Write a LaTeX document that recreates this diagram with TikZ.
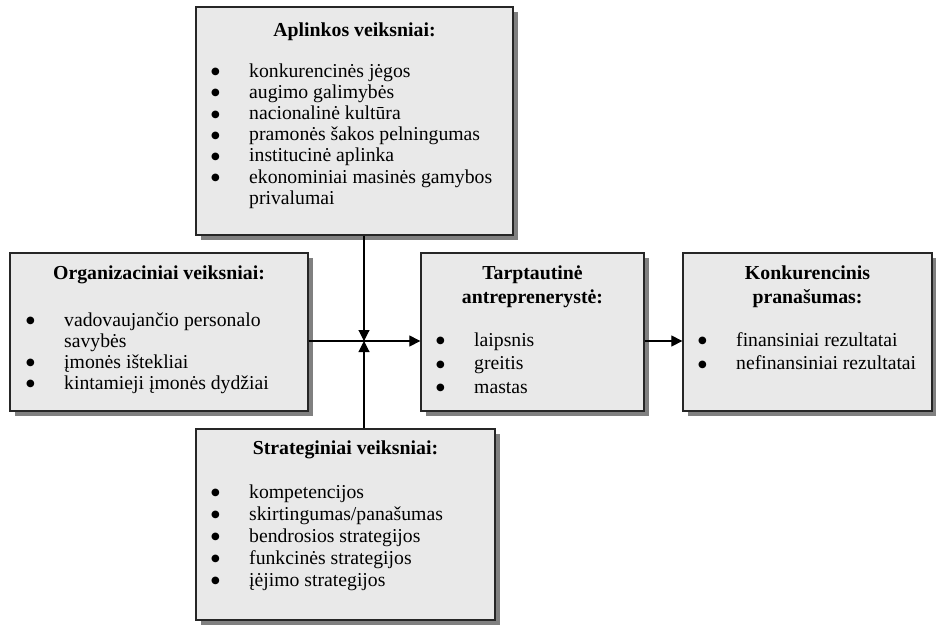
\documentclass[tikz,border=0pt]{standalone}
\usepackage{fontspec}
\setmainfont{Liberation Serif}
\newfontfamily\bltfont{DejaVu Sans}
\usetikzlibrary{arrows.meta,shadows}
\definecolor{boxfill}{RGB}{233,233,233}
\definecolor{shadowgray}{RGB}{128,128,128}
\newcommand{\blt}{\makebox[37.4pt][l]{\hspace*{-0.6pt}\raisebox{2.3pt}{\bltfont\fontsize{10}{10}\selectfont ●}}}
\newcommand{\ind}{\hspace*{37.4pt}}
\tikzset{
  box/.style={draw=black!85, line width=1.3pt, fill=boxfill,
    drop shadow={shadow xshift=5pt, shadow yshift=-5pt, fill=shadowgray, opacity=1},
    inner sep=0pt},
  ttl/.style={font=\fontsize{19.8}{24}\selectfont\bfseries, inner sep=0pt, anchor=base},
  lst/.style={font=\fontsize{19.7}{#1}\selectfont, inner sep=0pt, anchor=base west},
  conn/.style={line width=1.1pt, -{Triangle[length=11pt,width=11pt]}}
}
\begin{document}
\begin{tikzpicture}[x=1pt,y=-1pt]
\useasboundingbox[fill=white] (0,0) rectangle (936,624);
% boxes
\node[box, minimum width=317pt, minimum height=228pt] (A) at (354.5,121) {};
\node[box, minimum width=298pt, minimum height=158pt] (O) at (159,332) {};
\node[box, minimum width=223pt, minimum height=158pt] (T) at (532.5,332) {};
\node[box, minimum width=249pt, minimum height=158pt] (K) at (807.5,332) {};
\node[box, minimum width=299pt, minimum height=191pt] (S) at (345.5,524.5) {};
% titles
\node[ttl] (At) at (354.5,36) {Aplinkos veiksniai:};
\node[ttl] (Ot) at (159,279) {Organizaciniai veiksniai:};
\node[ttl] (Tt) at (532.5,279) {\begin{tabular}[t]{@{}c@{}}Tarptautinė\\antreprenerystė:\end{tabular}};
\node[ttl] (Kt) at (807.5,279) {\begin{tabular}[t]{@{}c@{}}Konkurencinis\\pranašumas:\end{tabular}};
\node[ttl] (St) at (345.5,454) {Strateginiai veiksniai:};
% lists
\node[lst=21.2] (Al) at (211.6,77) {\begin{tabular}[t]{@{}l@{}}
\blt konkurencinės jėgos\\
\blt augimo galimybės\\
\blt nacionalinė kultūra\\
\blt pramonės šakos pelningumas\\
\blt institucinė aplinka\\
\blt ekonominiai masinės gamybos\\
\ind privalumai\end{tabular}};
\node[lst=21] (Ol) at (26.6,326) {\begin{tabular}[t]{@{}l@{}}
\blt vadovaujančio personalo\\
\ind savybės\\
\blt įmonės ištekliai\\
\blt kintamieji įmonės dydžiai\end{tabular}};
\node[lst=23.5] (Tl) at (436.6,346) {\begin{tabular}[t]{@{}l@{}}
\blt laipsnis\\
\blt greitis\\
\blt mastas\end{tabular}};
\node[lst=23.5] (Kl) at (698.6,346) {\begin{tabular}[t]{@{}l@{}}
\blt finansiniai rezultatai\\
\blt nefinansiniai rezultatai\end{tabular}};
\node[lst=22] (Sl) at (211.6,498) {\begin{tabular}[t]{@{}l@{}}
\blt kompetencijos\\
\blt skirtingumas/panašumas\\
\blt bendrosios strategijos\\
\blt funkcinės strategijos\\
\blt įėjimo strategijos\end{tabular}};
% connectors
\coordinate (J) at (364,341);
\draw[conn] (A.south -| J) -- (J);
\draw[conn] (S.north -| J) -- (J);
\draw[conn] (O.east |- J) -- (T.west |- J);
\draw[conn] (T.east |- J) -- (K.west |- J);
\end{tikzpicture}
\end{document}
